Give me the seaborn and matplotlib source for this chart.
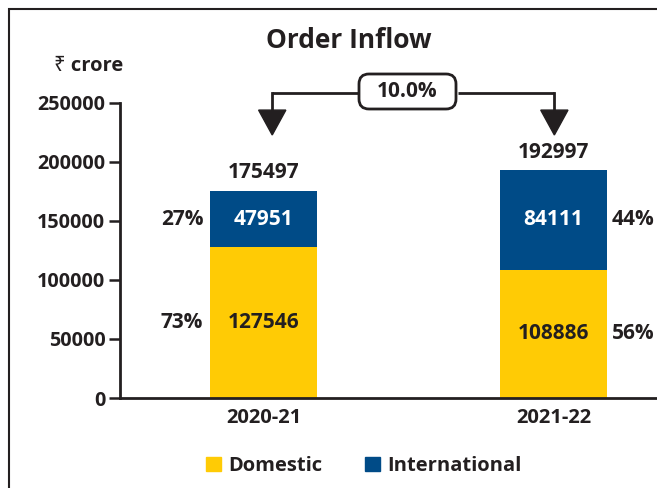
import matplotlib
matplotlib.use("Agg")
import matplotlib.pyplot as plt
import matplotlib.patches as mpatches
import seaborn as sns
import pandas as pd

# ---- data ----
years = ["2020-21", "2021-22"]
domestic = [127546, 108886]
international = [47951, 84111]
totals = [175497, 192997]
dom_pct = ["73%", "56%"]
intl_pct = ["27%", "44%"]
growth = "10.0%"
yticks = [0, 50000, 100000, 150000, 200000, 250000]

YELLOW = "#FFCB05"
BLUE = "#004B87"
DARK = "#231F20"
W = "bold"

sns.set_theme(style="white")
plt.rcParams["font.family"] = ["Open Sans", "DejaVu Sans"]
plt.rcParams["font.weight"] = "bold"

fig = plt.figure(figsize=(6.57, 4.88), dpi=100)
ax = fig.add_axes([120/657, 1-398/488, 1-120/657, (398-103)/488])

df = pd.DataFrame({"year": years, "total": totals, "domestic": domestic})
bw = 0.37
sns.barplot(data=df, x="year", y="total", color=BLUE, saturation=1, width=bw, linewidth=0, ax=ax)
sns.barplot(data=df, x="year", y="domestic", color=YELLOW, saturation=1, width=bw, linewidth=0, ax=ax)

ax.set_xlim(-0.495, 1.357)
ax.set_ylim(0, 250000)
ax.set_xlabel("")
ax.set_ylabel("")
ax.set_yticks(yticks)
ax.set_yticklabels([str(v) for v in yticks], fontsize=14.2, fontweight=W, color=DARK)
ax.set_xticks([0, 1])
ax.set_xticklabels(years, fontsize=14.5, fontweight=W, color=DARK)
ax.set_xticks([-0.495, 0.5], minor=True)
ax.tick_params(axis="x", which="major", length=0, pad=7)
ax.tick_params(axis="x", which="minor", length=9.5, width=1.8, direction="inout", color=DARK)
ax.tick_params(axis="y", length=8, width=1.8, direction="out", color=DARK, pad=2.5, left=True)
for s in ["top", "right"]:
    ax.spines[s].set_visible(False)
for s in ["left", "bottom"]:
    ax.spines[s].set_color(DARK)
    ax.spines[s].set_linewidth(2)

FS = 15
for i in range(len(years)):
    d, it, t = domestic[i], international[i], totals[i]
    ax.text(i, d/2, f"{d}", ha="center", va="center", fontsize=FS, fontweight=W, color=DARK)
    ax.text(i, d + it/2, f"{it}", ha="center", va="center", fontsize=FS, fontweight=W, color="white")
    ax.text(i, t + 6500, f"{t}", ha="center", va="bottom", fontsize=FS, fontweight=W, color=DARK)

# percentage labels
ax.text(-0.208, domestic[0]/2, dom_pct[0], ha="right", va="center", fontsize=FS, fontweight=W, color=DARK)
ax.text(-0.208, domestic[0] + international[0]/2, intl_pct[0], ha="right", va="center", fontsize=FS, fontweight=W, color=DARK)
ax.text(1.2, domestic[1]/2, dom_pct[1], ha="left", va="center", fontsize=FS, fontweight=W, color=DARK)
ax.text(1.2, domestic[1] + international[1]/2, intl_pct[1], ha="left", va="center", fontsize=FS, fontweight=W, color=DARK)

# growth connector
yh = 258500
ytri = 244000
ytip = 222900
xl, xr = 0.03, 1.003
ax.plot([xl, 0.328], [yh, yh], color=DARK, lw=2, clip_on=False, solid_capstyle="butt")
ax.plot([0.67, xr], [yh, yh], color=DARK, lw=2, clip_on=False, solid_capstyle="butt")
for xx in (xl, xr):
    ax.plot([xx, xx], [yh, ytri], color=DARK, lw=2, clip_on=False, solid_capstyle="projecting")
    tri = mpatches.Polygon([[xx - 0.047, ytri], [xx + 0.047, ytri], [xx, ytip]],
                           closed=True, color=DARK, clip_on=False)
    ax.add_patch(tri)
box = mpatches.FancyBboxPatch((3.59, 3.79), 0.97, 0.35, boxstyle="round,pad=0,rounding_size=0.1",
                              transform=fig.dpi_scale_trans, fc="white", ec=DARK, lw=2)
fig.add_artist(box)
fig.text(407.5/657, 1-91.5/488, growth, ha="center", va="center", fontsize=FS, fontweight=W, color=DARK)

# title and unit
fig.text(349/657, 1-40/488, "Order Inflow", ha="center", va="center", fontsize=19, fontweight=W, color=DARK)
fig.text(89/657, 1-66/488, "₹ crore", ha="center", va="center", fontsize=14.5, fontweight=W, color=DARK,
         family=["Open Sans", "Noto Sans", "DejaVu Sans"])

# legend
handles = [mpatches.Patch(color=YELLOW, label="Domestic"), mpatches.Patch(color=BLUE, label="International")]
fig.legend(handles=handles, loc="center", bbox_to_anchor=(364/657, 1-466/488), ncol=2, frameon=False,
           prop=dict(size=14.5, weight=W), handlelength=0.72, handleheight=0.72, handletextpad=0.4,
           columnspacing=2.1, labelcolor=DARK)

# outer frame (clipped on right and bottom)
frame = mpatches.Rectangle((9/657, -0.2), 2, 1.2 - 9/488, transform=fig.transFigure, fill=False,
                           ec=DARK, lw=1.5, clip_on=False)
fig.add_artist(frame)

fig.savefig("out.png", dpi=100)
